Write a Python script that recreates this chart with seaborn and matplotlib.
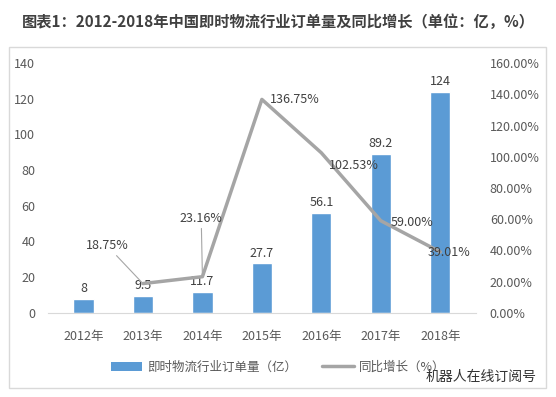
import pandas as pd
import numpy as np
import matplotlib.pyplot as plt
import seaborn as sns
from matplotlib.patches import Rectangle, Patch
from matplotlib.lines import Line2D

years = ["2012年", "2013年", "2014年", "2015年", "2016年", "2017年", "2018年"]
orders = [8, 9.5, 11.7, 27.7, 56.1, 89.2, 124]
order_labels = ["8", "9.5", "11.7", "27.7", "56.1", "89.2", "124"]
growth_years = ["2013年", "2014年", "2015年", "2016年", "2017年", "2018年"]
growth = [18.75, 23.16, 136.75, 102.53, 59.00, 39.01]
growth_labels = ["18.75%", "23.16%", "136.75%", "102.53%", "59.00%", "39.01%"]

sns.set_style("white")
plt.rcParams['font.family'] = ['Noto Sans CJK SC', 'DejaVu Sans']

bar_col = "#5B9BD5"
line_col = "#A5A5A5"
txt_col = "#595959"

fig = plt.figure(figsize=(5.56, 3.97), dpi=100)
ax = fig.add_axes([0.086, 0.212, 0.770, 0.629])

# outer chart frame
fig.patches.append(Rectangle((0.016, 0.023), 0.966, 0.859, transform=fig.transFigure,
                             fill=False, edgecolor="#D9D9D9", lw=1))

df = pd.DataFrame({"year": years, "orders": orders})
sns.barplot(data=df, x="year", y="orders", color=bar_col, width=0.34,
            saturation=1, ax=ax)
ax.set_ylim(0, 140)
ax.set_yticks(np.arange(0, 141, 20))
ax.set_xlabel("")
ax.set_ylabel("")
for i, v in enumerate(orders):
    ax.text(i, v + 2, order_labels[i], ha="center", va="bottom", fontsize=9, color="#404040")

ax2 = ax.twinx()
gx = [years.index(y) for y in growth_years]
gdf = pd.DataFrame({"x": gx, "g": [g / 100 for g in growth]})
sns.lineplot(data=gdf, x="x", y="g", color=line_col, lw=2.5, ax=ax2)
ax2.set_ylim(0, 1.6)
ax2.set_yticks(np.arange(0, 1.61, 0.2))
ax2.set_yticklabels(["%.2f%%" % (t * 100) for t in np.arange(0, 1.61, 0.2)])
ax2.set_ylabel("")
ax.set_xlim(-0.6, 6.6)

# percentage labels (some with leader lines)
offsets = [(-0.6, 0.2, True), (-0.02, 0.33, True), (0.55, 0.0, False),
           (0.55, -0.08, False), (0.52, -0.01, False), (0.15, -0.005, False)]
for x, g, lab, (dx, dy, leader) in zip(gx, growth, growth_labels, offsets):
    y = g / 100
    if leader:
        ax2.annotate(lab, xy=(x, y), xytext=(x + dx, y + dy), ha="center", va="bottom",
                     fontsize=9, color="#404040",
                     arrowprops=dict(arrowstyle="-", color="#A6A6A6", lw=0.8,
                                     shrinkA=0, shrinkB=0))
    else:
        ax2.text(x + dx, y + dy, lab, ha="center", va="center", fontsize=9, color="#404040")

for a in (ax, ax2):
    for s in a.spines.values():
        s.set_visible(False)
    a.tick_params(length=0, labelsize=9, labelcolor=txt_col)
ax.spines["bottom"].set_visible(True)
ax.spines["bottom"].set_color("#D9D9D9")
ax.tick_params(axis="x", pad=12)
ax.tick_params(axis="y", pad=9)
ax2.tick_params(axis="y", pad=10)

handles = [Patch(facecolor=bar_col, edgecolor="none"),
           Line2D([0], [0], color=line_col, lw=2.5)]
fig.legend(handles, ["即时物流行业订单量（亿）", "同比增长（%）"], loc="center",
           bbox_to_anchor=(0.5, 0.075), ncol=2, frameon=False, fontsize=9,
           handlelength=2.5, handletextpad=0.4, columnspacing=2.0, labelcolor=txt_col)

fig.text(0.5, 0.945, "图表1：2012-2018年中国即时物流行业订单量及同比增长（单位：亿，%）",
         ha="center", va="center", fontsize=11, fontweight="bold", color="#404040")
fig.text(0.865, 0.05, "机器人在线订阅号", ha="center", va="center", fontsize=10, color="#333333")

fig.savefig("out.png", dpi=100)
